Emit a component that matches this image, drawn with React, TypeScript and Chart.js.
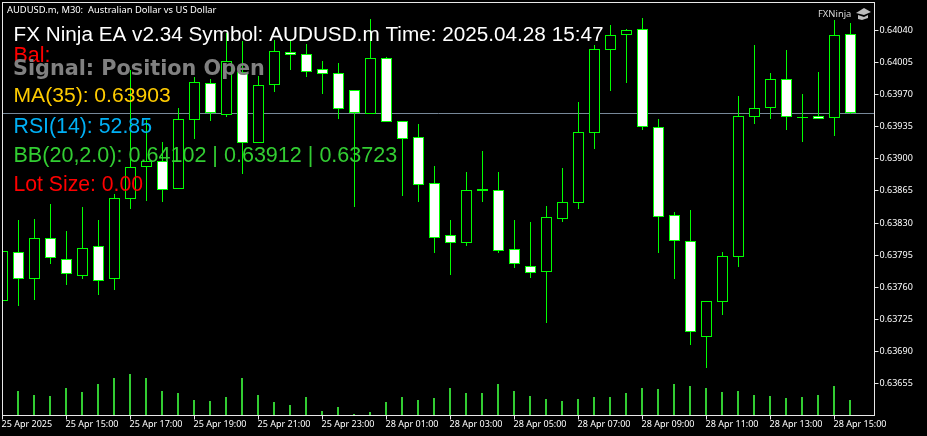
import React, { useEffect, useRef } from "react";
import { Chart, registerables } from "chart.js";

Chart.register(...registerables);

const opens = [0.63746,0.63798,0.6377,0.63813,0.6379,0.63773,0.63804,0.63769,0.63857,0.63892,0.63897,0.63868,0.63943,0.63982,0.63948,0.63994,0.63918,0.63981,0.64016,0.64014,0.63997,0.63993,0.63975,0.63949,0.64009,0.63941,0.63923,0.63873,0.63816,0.63809,0.63865,0.63866,0.63801,0.63783,0.63777,0.63835,0.63852,0.63929,0.64019,0.64036,0.64041,0.63934,0.63838,0.6381,0.63706,0.63744,0.63794,0.63946,0.63956,0.63986,0.63945,0.63946,0.63945,0.64036];
const closes = [0.63799,0.6377,0.63813,0.63792,0.63775,0.63802,0.63767,0.63857,0.63891,0.63897,0.63867,0.63943,0.63983,0.6395,0.64006,0.63918,0.6398,0.64017,0.64014,0.63995,0.63993,0.63955,0.6395,0.64009,0.63941,0.63922,0.63872,0.63814,0.63809,0.63866,0.63867,0.638,0.63786,0.63776,0.63836,0.63852,0.63929,0.64019,0.64035,0.6404,0.63935,0.63837,0.63811,0.63712,0.63744,0.63794,0.63946,0.63955,0.63986,0.63946,0.63945,0.63944,0.64035,0.6395];
const highs = [0.63806,0.63833,0.63834,0.63851,0.63821,0.63847,0.63833,0.63862,0.63997,0.63942,0.63918,0.63955,0.63989,0.63987,0.64037,0.64028,0.6399,0.6403,0.64028,0.64025,0.64007,0.64004,0.63975,0.64052,0.64011,0.63941,0.63938,0.63892,0.63833,0.63886,0.63909,0.63886,0.63833,0.63831,0.63849,0.6389,0.63962,0.64024,0.64046,0.64042,0.64054,0.63943,0.63842,0.63844,0.63744,0.63798,0.63969,0.64024,0.63994,0.64019,0.63971,0.63995,0.64051,0.64048];
const lows = [0.63741,0.63739,0.63746,0.63785,0.63762,0.63769,0.63751,0.63757,0.63845,0.63854,0.63853,0.63868,0.63922,0.63941,0.63946,0.63883,0.63918,0.63973,0.63997,0.63989,0.63971,0.63943,0.63847,0.63949,0.63941,0.6386,0.63853,0.63797,0.63773,0.63805,0.63853,0.63797,0.63781,0.6377,0.63721,0.63831,0.63845,0.63911,0.63974,0.63983,0.63931,0.63797,0.63769,0.63697,0.63672,0.6373,0.63782,0.63938,0.63943,0.63931,0.63918,0.63943,0.63925,0.63949];
const volumes = [null,25,21,20,28,24,32,38,42,38,25,23,16,15,19,38,21,14,11,19,5,9,2,4,14,19,16,18,28,23,23,32,25,20,17,15,17,19,19,23,28,27,32,30,28,24,25,21,20,18,19,21,30,16];
const xTickIndex = [0,4,8,12,16,20,24,28,32,36,40,44,48,52];
const xTickLabels = ["25 Apr 2025","25 Apr 15:00","25 Apr 17:00","25 Apr 19:00","25 Apr 21:00","25 Apr 23:00","28 Apr 01:00","28 Apr 03:00","28 Apr 05:00","28 Apr 07:00","28 Apr 09:00","28 Apr 11:00","28 Apr 13:00","28 Apr 15:00"];
const yTickValues = [0.6404,0.64005,0.6397,0.63935,0.639,0.63865,0.6383,0.63795,0.6376,0.63725,0.6369,0.63655];
const bidPrice = 0.639495;
const overlayLines = [
  { text: "AUDUSD.m, M30:  Australian Dollar vs US Dollar", x: 7, y: 13, font: '9.4px "Noto Sans"', color: "#ffffff" },
  { text: "FX Ninja EA v2.34 Symbol: AUDUSD.m Time: 2025.04.28 15:47", x: 13.5, y: 41, font: '20.72px "Liberation Sans"', color: "#ffffff" },
  { text: "Bal:", x: 13.5, y: 62, font: '21.4px "Liberation Sans"', color: "#ff0000" },
  { text: "Signal: Position Open", x: 13, y: 75, font: 'bold 20.75px "DejaVu Sans"', color: "#808080" },
  { text: "MA(35): 0.63903", x: 13.5, y: 101.5, font: '21.1px "Liberation Sans"', color: "#ffcc00" },
  { text: "RSI(14): 52.85", x: 13.5, y: 132.5, font: '21.3px "Liberation Sans"', color: "#00b0f5" },
  { text: "BB(20,2.0): 0.64102 | 0.63912 | 0.63723", x: 13.5, y: 161.5, font: '21.55px "Liberation Sans"', color: "#32cd32" },
  { text: "Lot Size: 0.00", x: 13.5, y: 191, font: '21.2px "Liberation Sans"', color: "#ff0000" },
  { text: "FXNinja", x: 818, y: 17, font: '9.4px "Noto Sans"', color: "#d8d8d8" },
];

const LIME = "#00ff00";
const FRAME = "#e8e8e8";
const TICK_FONT = { family: '"Noto Sans"', size: 9 };

const snapPlugin = {
  id: "snap",
  afterDatasetsUpdate(chart: any) {
    chart.data.datasets.forEach((ds: any, i: number) => {
      const meta = chart.getDatasetMeta(i);
      if (meta.type === "line") {
        meta.data.forEach((p: any) => { p.y = Math.round(p.y - 0.5) + 0.5; });
        return;
      }
      const grow = ds.snapGrow || 0;
      meta.data.forEach((el: any) => {
        if (el.y == null || el.base == null || isNaN(el.y)) return;
        const left = Math.round(el.x - el.width / 2 - 0.1);
        el.x = left + el.width / 2;
        const top = Math.round(Math.min(el.y, el.base) - grow);
        let bottom = Math.round(Math.max(el.y, el.base) + grow);
        if (bottom <= top) bottom = top + 1;
        el.y = top;
        el.base = bottom;
      });
    });
  },
};

const framePlugin = {
  id: "frame",
  afterDraw(chart: any) {
    const { ctx, chartArea: a } = chart;
    ctx.save();
    ctx.strokeStyle = FRAME;
    ctx.lineWidth = 1;
    ctx.strokeRect(a.left, a.top, a.right - a.left, a.bottom - a.top);
    ctx.textBaseline = "alphabetic";
    ctx.textAlign = "left";
    overlayLines.forEach((l) => {
      ctx.font = l.font;
      ctx.fillStyle = l.color;
      ctx.fillText(l.text, l.x, l.y);
    });
    // graduation cap next to the FXNinja label
    ctx.fillStyle = "#bdbdbd";
    ctx.beginPath();
    ctx.moveTo(856, 13); ctx.lineTo(864, 8); ctx.lineTo(871, 12); ctx.lineTo(864, 15); ctx.closePath();
    ctx.fill();
    ctx.beginPath();
    ctx.moveTo(858, 15); ctx.lineTo(864, 17); ctx.lineTo(868, 15); ctx.lineTo(868, 18); ctx.lineTo(862, 20); ctx.lineTo(858, 19); ctx.closePath();
    ctx.fill();
    ctx.restore();
  },
};

export default function App() {
  const ref = useRef<HTMLCanvasElement | null>(null);
  useEffect(() => {
    const idx = opens.map((_, i) => i);
    const chart = new Chart(ref.current as HTMLCanvasElement, {
      type: "bar",
      data: {
        datasets: [
          {
            label: "body",
            data: idx.map((i) => ({ x: i, y: [opens[i], closes[i]] })),
            barThickness: 11,
            grouped: false,
            borderWidth: 1,
            borderSkipped: false,
            inflateAmount: 0,
            borderColor: LIME,
            backgroundColor: idx.map((i) => (closes[i] < opens[i] ? "#ffffff" : "#000000")),
            xAxisID: "x",
            yAxisID: "y",
            snapGrow: 0.5,
          },
          {
            label: "wick",
            data: idx.map((i) => ({ x: i, y: [lows[i], highs[i]] })),
            barThickness: 1,
            grouped: false,
            inflateAmount: 0,
            borderWidth: 0,
            backgroundColor: LIME,
            xAxisID: "x",
            yAxisID: "y",
          },
          {
            label: "volume",
            data: idx.map((i) => ({ x: i, y: volumes[i] })),
            barThickness: 2,
            grouped: false,
            inflateAmount: 0,
            borderWidth: 0,
            backgroundColor: "#32cd32",
            xAxisID: "x",
            yAxisID: "vol",
          },
          {
            type: "line",
            label: "bid",
            data: [{ x: 0, y: bidPrice }, { x: 54.5, y: bidPrice }],
            borderColor: "#778899",
            borderWidth: 1,
            pointRadius: 0,
            xAxisID: "x",
            yAxisID: "y",
          },
        ] as any,
      },
      options: {
        animation: false,
        responsive: false,
        layout: { padding: { left: 2.5, top: 2.5, right: 0, bottom: 0 } },
        plugins: { legend: { display: false }, tooltip: { enabled: false } },
        scales: {
          x: {
            type: "linear",
            offset: false,
            min: 0,
            max: 54.5,
            afterFit: (s: any) => { s.height = 20.5; s.paddingLeft = 0; s.paddingRight = 0; },
            afterBuildTicks: (s: any) => { s.ticks = xTickIndex.map((v) => ({ value: v })); },
            border: { display: false },
            grid: { drawOnChartArea: false, color: FRAME, tickLength: 4, offset: false },
            ticks: {
              color: "#ffffff",
              font: TICK_FONT,
              align: "start",
              padding: 0,
              labelOffset: -1,
              autoSkip: false,
              maxRotation: 0,
              minRotation: 0,
              callback: (v: any) => xTickLabels[xTickIndex.indexOf(Number(v))],
            },
          },
          y: {
            type: "linear",
            position: "right",
            min: 0.636201,
            max: 0.640705,
            afterFit: (s: any) => { s.width = 52.5; s.paddingTop = 0; s.paddingBottom = 0; },
            afterBuildTicks: (s: any) => { s.ticks = yTickValues.map((v) => ({ value: v })); },
            border: { display: false },
            grid: { drawOnChartArea: false, color: FRAME, tickLength: 4 },
            ticks: {
              color: "#ffffff",
              font: TICK_FONT,
              padding: 1,
              crossAlign: "near",
              autoSkip: false,
              callback: (v: any) => Number(v).toFixed(5),
            },
          },
          vol: {
            type: "linear",
            display: false,
            min: 0,
            max: 413,
          },
        },
      } as any,
      plugins: [snapPlugin, framePlugin],
    });
    return () => chart.destroy();
  }, []);
  return (
    <div style={{ position: "fixed", left: 0, top: 0, width: 927, height: 436, background: "#000", overflow: "hidden" }}>
      <canvas ref={ref} width={927} height={436} style={{ display: "block", background: "#000" }} />
    </div>
  );
}
